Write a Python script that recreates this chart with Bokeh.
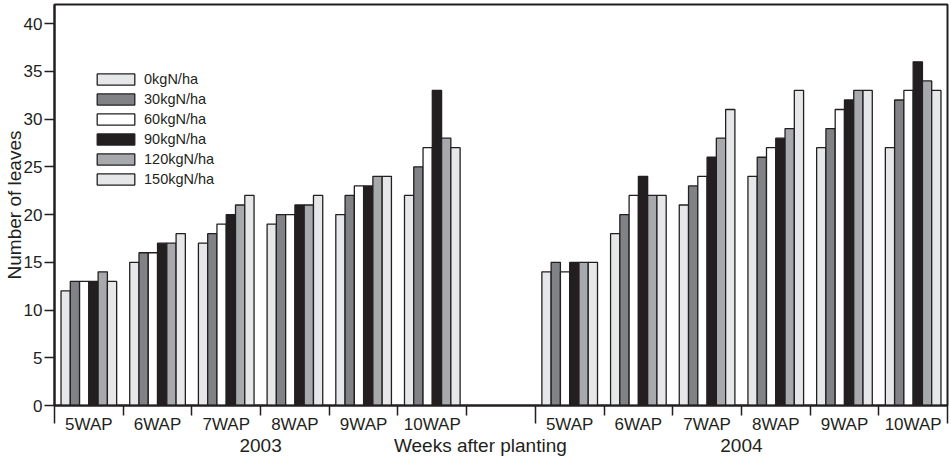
from bokeh.plotting import figure
from bokeh.models import Range1d, LinearAxis, FixedTicker, ColumnDataSource
from bokeh.transform import dodge
from bokeh.embed import file_html
from bokeh.resources import INLINE

# ---------------- data ----------------
years = ["2003", "2004"]
weeks = ["5WAP", "6WAP", "7WAP", "8WAP", "9WAP", "10WAP"]
rates = ["0kgN/ha", "30kgN/ha", "60kgN/ha", "90kgN/ha", "120kgN/ha", "150kgN/ha"]
#        2003: 5..10WAP            2004: 5..10WAP
n0   = [12, 15, 17, 19, 20, 22,   14, 18, 21, 24, 27, 27]
n30  = [13, 16, 18, 20, 22, 25,   15, 20, 23, 26, 29, 32]
n60  = [13, 16, 19, 20, 23, 27,   14, 22, 24, 27, 31, 33]
n90  = [13, 17, 20, 21, 23, 33,   15, 24, 26, 28, 32, 36]
n120 = [14, 17, 21, 21, 24, 28,   15, 22, 28, 29, 33, 34]
n150 = [13, 18, 22, 22, 24, 27,   15, 22, 31, 33, 33, 33]
series = [n0, n30, n60, n90, n120, n150]
y_ticks = [0, 5, 10, 15, 20, 25, 30, 35, 40]
x_title = "Weeks after planting"
y_title = "Number of leaves"

# ---------------- styles ----------------
fills = ["#e6e7e8", "#808285", "#ffffff", "#231f20", "#a7a9ac", "#e6e7e8"]
ink = "#231f20"
FONT = "Liberation Sans"

# slot layout: 6 week groups per year, one empty slot between the years
nw = len(weeks)
year_starts = [k * (nw + 1) for k in range(len(years))]
n_slots = nw * len(years) + (len(years) - 1)
centers = [ys + k + 0.5 for ys in year_starts for k in range(nw)]

data = dict(x=centers)
for r, s in zip(rates, series):
    data[r] = s
source = ColumnDataSource(data)

p = figure(x_range=Range1d(0, n_slots), y_range=Range1d(0, 42), width=951, height=461,
           output_backend="svg", toolbar_location=None, x_axis_location=None,
           min_border_left=53, min_border_right=4, min_border_top=4,
           min_border_bottom=56)
p.background_fill_color = "white"
p.border_fill_color = "white"
p.outline_line_color = ink
p.outline_line_width = 2
for g in p.grid:
    g.visible = False

bw = 0.135
n = len(rates)
for i, (r, c) in enumerate(zip(rates, fills)):
    off = (i - (n - 1) / 2) * bw
    p.vbar(x=dodge("x", off), top=r, width=bw, source=source,
           fill_color=c, line_color=ink, line_width=1.3, legend_label=r)

long_ticks = year_starts + [n_slots]
short_ticks = [b for b in range(0, n_slots + 1) if b not in long_ticks]
labels = {c: w for c, w in zip(centers, weeks * len(years))}

# axis 1: baseline, long ticks at year boundaries, short ticks between groups
ax1 = LinearAxis(ticker=FixedTicker(ticks=long_ticks, minor_ticks=short_ticks),
                 major_tick_out=18, major_tick_in=0, major_tick_line_color=ink,
                 major_tick_line_width=1.5, minor_tick_out=10, minor_tick_in=0,
                 minor_tick_line_color=ink, minor_tick_line_width=1.5,
                 axis_line_color=ink, axis_line_width=2,
                 major_label_text_font_size="0px", major_label_text_color=None,
                 major_label_standoff=0)
p.add_layout(ax1, "below")

# axis 2: week labels
ax2 = LinearAxis(ticker=FixedTicker(ticks=centers, minor_ticks=[]),
                 major_label_overrides=labels, major_tick_out=0, major_tick_in=0,
                 major_tick_line_color=None, minor_tick_line_color=None,
                 axis_line_color=None, major_label_standoff=-9,
                 major_label_text_font=FONT, major_label_text_font_size="17px",
                 major_label_text_color=ink)
p.add_layout(ax2, "below")

# axis 3: year labels and axis title
yc = [ys + nw // 2 for ys in year_starts]
title_pos = 6.2
ax3 = LinearAxis(ticker=FixedTicker(ticks=[yc[0], title_pos, yc[1]], minor_ticks=[]),
                 major_label_overrides={yc[0]: years[0], title_pos: x_title, yc[1]: years[1]},
                 major_tick_out=0, major_tick_in=0, major_tick_line_color=None,
                 minor_tick_line_color=None, axis_line_color=None, major_label_standoff=-2,
                 major_label_text_font=FONT, major_label_text_font_size="19px",
                 major_label_text_color=ink)
p.add_layout(ax3, "below")

ya = p.yaxis[0]
ya.ticker = FixedTicker(ticks=y_ticks, minor_ticks=[])
ya.axis_label = y_title
ya.axis_label_text_font = FONT
ya.axis_label_text_font_size = "19px"
ya.axis_label_text_font_style = "normal"
ya.axis_label_text_color = ink
ya.axis_label_standoff = -4
ya.major_label_text_font = FONT
ya.major_label_text_font_size = "17px"
ya.major_label_text_color = ink
ya.major_label_standoff = 2
ya.major_tick_out = 10
ya.major_tick_in = 0
ya.major_tick_line_color = ink
ya.major_tick_line_width = 1.5
ya.axis_line_color = ink
ya.axis_line_width = 2

lg = p.legend[0]
lg.location = (38, 216)
lg.padding = 0
lg.margin = 0
lg.spacing = 0
lg.border_line_color = None
lg.background_fill_alpha = 0
lg.glyph_width = 47
lg.glyph_height = 14
lg.label_height = 20
lg.label_standoff = 5
lg.label_text_font = FONT
lg.label_text_font_size = "14.5px"
lg.label_text_color = ink

open("out.html", "w").write(file_html(p, INLINE))
